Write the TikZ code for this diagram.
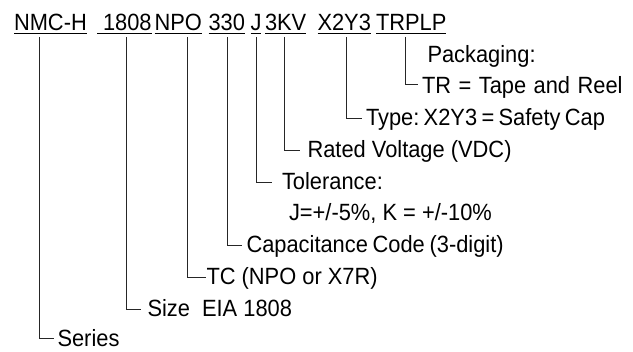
\documentclass[tikz,border=0pt]{standalone}
\usepackage{fontspec}
\setmainfont{Liberation Sans}[FakeStretch=0.93]
\begin{document}
\frenchspacing
\begin{tikzpicture}[x=1pt,y=-1pt,
  font=\fontsize{23.5}{28}\selectfont,
  lbl/.style={anchor=base west, inner sep=0pt, outer sep=0pt},
  conn/.style={line width=1pt, draw=black!85},
  uln/.style={line width=1pt, draw=black}]
\useasboundingbox (0,0) rectangle (633,352);
% top row
\node[lbl] (w1) at (14,31) {NMC-H};
\node[lbl] (w2) at (103,31) {1808};
\node[lbl] (w3) at (154.5,31) {NPO};
\node[lbl] (w4) at (208.5,31) {330};
\node[lbl] (w5) at (250.5,31) {J};
\node[lbl] (w6) at (265,31) {3KV};
\node[lbl] (w7) at (317.5,31) {X2Y3};
\node[lbl] (w8) at (376,31) {TRPLP};
\foreach \w in {w1,w3,w4,w5,w6,w7,w8}
  \draw[uln] ([yshift=-2.7pt]\w.base west) -- ([yshift=-2.7pt]\w.base east);
\draw[uln] ([xshift=-6pt,yshift=-2.7pt]w2.base west) -- ([yshift=-2.7pt]w2.base east);
% labels
\node[lbl] (pk)  at (427.5,63)  {Packaging:};
\node[lbl] (tr)  at (422,94)    {\spaceskip=0.318em TR = Tape and Reel};
\node[lbl] (ty)  at (366,126)   {\spaceskip=0.183em Type: X2Y3 = Safety Cap};
\node[lbl] (rv)  at (307.5,158) {Rated Voltage (VDC)};
\node[lbl] (tol) at (282,190)   {Tolerance:};
\node[lbl] (jk)  at (289,221)   {J=+/-5\%, K = +/-10\%};
\node[lbl] (cap) at (246.5,253) {\spaceskip=0.2em Capacitance Code (3-digit)};
\node[lbl] (tc)  at (206.5,285) {TC (NPO or X7R)};
\node[lbl] (sz)  at (147.5,317) {Size\hspace{6pt} EIA 1808};
\node[lbl] (se)  at (57.5,347)  {Series};
% connector ends
\coordinate (t1) at (39,37);    \coordinate (e1) at (54,339);
\coordinate (t2) at (126,37);   \coordinate (e2) at (140.7,310);
\coordinate (t3) at (187.7,37); \coordinate (e3) at (206,277.5);
\coordinate (t4) at (227.7,37); \coordinate (e4) at (241.7,245.5);
\coordinate (t5) at (256,37);   \coordinate (e5) at (271.7,182.5);
\coordinate (t6) at (284.5,37); \coordinate (e6) at (300,150.5);
\coordinate (t7) at (346,37);   \coordinate (e7) at (362,118.5);
\coordinate (t8) at (405.5,37); \coordinate (e8) at (418,85);
\foreach \i in {1,...,8}
  \draw[conn] (t\i) |- (e\i);
\end{tikzpicture}
\end{document}
